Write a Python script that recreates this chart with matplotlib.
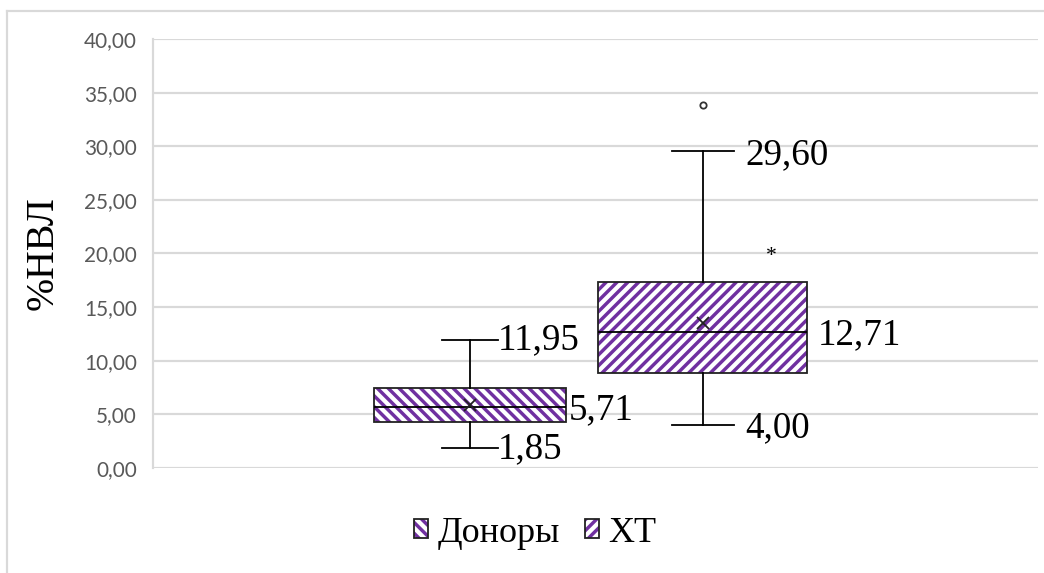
import matplotlib.pyplot as plt
import numpy as np
from matplotlib.patches import PathPatch, Patch
from matplotlib.lines import Line2D
from matplotlib.ticker import FuncFormatter

# box plot values
series = ['Доноры', 'ХТ']
whislo = [1.85, 4.00]
q1 = [4.25, 8.86]
med = [5.71, 12.71]
q3 = [7.50, 17.35]
whishi = [11.95, 29.60]
means = [5.87, 13.55]
fliers = [[], [33.85]]
hatches = ['\\\\\\\\', '////']
star_y = 19.7

positions = [0.358, 0.621]
widths = [0.217, 0.236]
capw = [0.064, 0.070]

purple = '#7030A0'
grid_c = '#D9D9D9'

dpi = 130
plt.rcParams['hatch.linewidth'] = 1.9
fig = plt.figure(figsize=(1044 / dpi, 573 / dpi), dpi=dpi)
ax = fig.add_axes([153 / 1044, 1 - 468 / 573, (1038 - 153) / 1044, (468 - 39) / 573])

stats = []
for i in range(len(series)):
    stats.append(dict(label=series[i], whislo=whislo[i], q1=q1[i], med=med[i],
                      q3=q3[i], whishi=whishi[i], mean=means[i], fliers=fliers[i]))

bp = ax.bxp(stats, positions=positions, widths=widths, capwidths=capw,
            patch_artist=True, showmeans=True, manage_ticks=False,
            boxprops=dict(linewidth=0),
            whiskerprops=dict(color='black', linewidth=1.0),
            capprops=dict(color='black', linewidth=1.0),
            medianprops=dict(color='black', linewidth=1.0),
            meanprops=dict(marker='x', markeredgecolor='#222222', markersize=7,
                           markeredgewidth=1.0),
            flierprops=dict(marker='o', markerfacecolor='white',
                            markeredgecolor='#333333', markersize=3.5,
                            markeredgewidth=1.0))

for box, h in zip(bp['boxes'], hatches):
    box.set_facecolor('white')
    box.set_edgecolor(purple)
    box.set_hatch(h)
    box.set_zorder(2)
    outline = PathPatch(box.get_path(), fill=False, edgecolor='#222222',
                        linewidth=1.0, zorder=2.5)
    ax.add_patch(outline)

for k in ['whiskers', 'caps', 'medians', 'means', 'fliers']:
    for a in bp[k]:
        a.set_zorder(3)

def fmt(v):
    return f'{v:.2f}'.replace('.', ',')

lab_kw = dict(fontsize=20.5, family='Liberation Serif', va='center', ha='left', color='black')
ax.text(0.390, whishi[0], fmt(whishi[0]), **lab_kw)
ax.text(0.390, whislo[0] - 0.1, fmt(whislo[0]), **lab_kw)
ax.text(0.470, med[0] - 0.3, fmt(med[0]), **lab_kw)
ax.text(0.669, whishi[1] - 0.4, fmt(whishi[1]), **lab_kw)
ax.text(0.669, whislo[1] - 0.3, fmt(whislo[1]), **lab_kw)
ax.text(0.751, med[1] - 0.3, fmt(med[1]), **lab_kw)
ax.text(0.699, star_y, '*', fontsize=12, family='Liberation Serif', ha='center', va='center')

ax.set_xlim(0, 1)
ax.set_ylim(0, 40)
ax.set_yticks(np.arange(0, 41, 5))
ax.yaxis.set_major_formatter(FuncFormatter(lambda v, p: fmt(v)))
ax.set_xticks([])
ax.tick_params(axis='y', length=0, pad=9, labelsize=11.5, labelcolor='#595959')
for t in ax.get_yticklabels():
    t.set_family('Lato')
ax.grid(axis='y', color=grid_c, linewidth=1.2)
ax.set_axisbelow(True)
for s in ['top', 'right', 'bottom']:
    ax.spines[s].set_visible(False)
ax.spines['left'].set_color(grid_c)
ax.spines['left'].set_linewidth(1.2)

ax.set_ylabel('%НВЛ', fontsize=22, family='Liberation Serif', labelpad=0)
ax.yaxis.set_label_coords(-(153 - 62) / 885, 0.5)

handles = []
for h in hatches:
    fill = Patch(facecolor='white', edgecolor=purple, hatch=h, linewidth=0)
    edge = Patch(facecolor='none', edgecolor='#222222', linewidth=1.0)
    handles.append((fill, edge))
leg = fig.legend(handles, series, loc='center', bbox_to_anchor=(535 / 1044, 1 - 533 / 573),
                 ncol=2, frameon=False, prop=dict(family='Liberation Serif', size=20),
                 handlelength=0.4, handleheight=0.4, handletextpad=0.25, columnspacing=0.7)

# chart outer border (only left and top visible)
fig.add_artist(Line2D([7 / 1044, 7 / 1044], [0, 1 - 11 / 573], color=grid_c, linewidth=1.2))
fig.add_artist(Line2D([7 / 1044, 1], [1 - 11 / 573, 1 - 11 / 573], color=grid_c, linewidth=1.2))

fig.savefig('out.png', dpi=dpi)
